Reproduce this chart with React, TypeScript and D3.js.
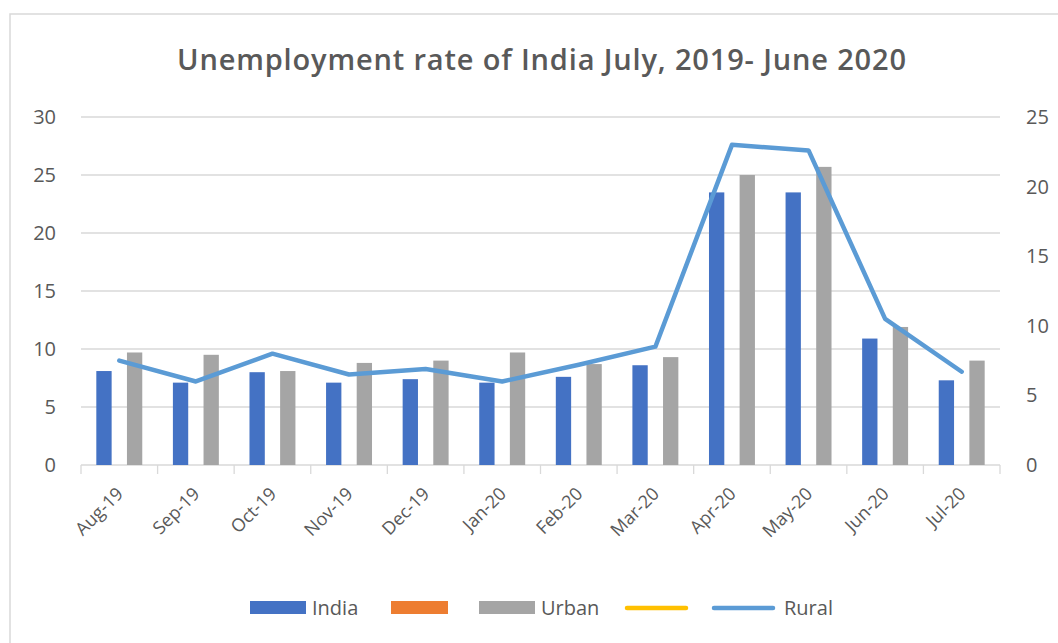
import React from 'react';
import * as d3 from 'd3';

const months = ['Aug-19', 'Sep-19', 'Oct-19', 'Nov-19', 'Dec-19', 'Jan-20', 'Feb-20', 'Mar-20', 'Apr-20', 'May-20', 'Jun-20', 'Jul-20'];
const india = [8.1, 7.1, 8.0, 7.1, 7.4, 7.1, 7.6, 8.6, 23.5, 23.5, 10.9, 7.3];
const urban = [9.7, 9.5, 8.1, 8.8, 9.0, 9.7, 8.7, 9.3, 25.0, 25.7, 11.9, 9.0];
const rural = [7.5, 6.0, 8.0, 6.5, 6.9, 6.0, 7.2, 8.5, 23.0, 22.6, 10.5, 6.7];
const leftTicks = [0, 5, 10, 15, 20, 25, 30];
const rightTicks = [0, 5, 10, 15, 20, 25];
const barKeys = ['India', 'Series2', 'Urban'];

const W = 1058;
const H = 643;
const font = "'Open Sans', sans-serif";
const textColor = '#595959';

export default function App() {
  const margin = { top: 117, bottom: 178, left: 81, right: 58 };

  const x = d3.scaleBand<string>().domain(months).range([margin.left, W - margin.right]).padding(0);
  const xInner = d3.scaleBand<string>().domain(barKeys).range([0, x.bandwidth()]).paddingInner(0).paddingOuter(1);
  const yLeft = d3.scaleLinear().domain([0, 30]).range([H - margin.bottom, margin.top]);
  const yRight = d3.scaleLinear().domain([0, 25]).range([H - margin.bottom, margin.top]);

  const cx = (m: string) => (x(m) as number) + x.bandwidth() / 2;
  const ruralLine = d3
    .line<number>()
    .x((_, i) => cx(months[i]))
    .y((d) => yRight(d))(rural) as string;

  const y0 = yLeft(0);

  return (
    <svg width={W} height={H} style={{ position: 'absolute', left: 0, top: 0, background: '#fff' }}>
      <rect x={10} y={14} width={W + 20} height={H + 20} fill="#fff" stroke="#d9d9d9" strokeWidth={1.5} />
      <text x={177} y={70} textLength={729} fontFamily={font} fontWeight={600} fontSize={29} fill={textColor}>
        Unemployment rate of India July, 2019- June 2020
      </text>

      {leftTicks.map((t) => (
        <g key={'gl' + t}>
          <line x1={margin.left} x2={W - margin.right} y1={yLeft(t)} y2={yLeft(t)} stroke="#d9d9d9" strokeWidth={1.3} />
          <text x={56} y={yLeft(t) + 7} textAnchor="end" fontFamily={font} fontSize={20} fill={textColor}>
            {t}
          </text>
        </g>
      ))}
      {rightTicks.map((t) => (
        <text key={'r' + t} x={1026} y={yRight(t) + 7} fontFamily={font} fontSize={20} fill={textColor}>
          {t}
        </text>
      ))}

      {/* category ticks */}
      {[...months.map((m) => x(m) as number), W - margin.right].map((v, i) => (
        <line key={'t' + i} x1={v} x2={v} y1={y0} y2={y0 + 9} stroke="#d9d9d9" strokeWidth={1.3} />
      ))}

      {months.map((m, i) => (
        <g key={m}>
          <rect
            x={(x(m) as number) + (xInner('India') as number)}
            y={yLeft(india[i])}
            width={xInner.bandwidth()}
            height={y0 - yLeft(india[i])}
            fill="#4472c4"
          />
          <rect
            x={(x(m) as number) + (xInner('Urban') as number)}
            y={yLeft(urban[i])}
            width={xInner.bandwidth()}
            height={y0 - yLeft(urban[i])}
            fill="#a5a5a5"
          />
          <text
            transform={`translate(${cx(m) + 5},${y0 + 30}) rotate(-45)`}
            textAnchor="end"
            fontFamily={font}
            fontSize={18}
            fill={textColor}
          >
            {m}
          </text>
        </g>
      ))}

      <path d={ruralLine} fill="none" stroke="#5b9bd5" strokeWidth={4.5} strokeLinejoin="round" strokeLinecap="round" />

      {/* legend */}
      <g fontFamily={font} fontSize={20} fill={textColor}>
        <rect x={250} y={601} width={56} height={13} fill="#4472c4" />
        <text x={312} y={615}>India</text>
        <rect x={391} y={601} width={57} height={13} fill="#ed7d31" />
        <rect x={479} y={601} width={56} height={13} fill="#a5a5a5" />
        <text x={541} y={615}>Urban</text>
        <line x1={627} x2={686} y1={608} y2={608} stroke="#ffc000" strokeWidth={4.5} strokeLinecap="round" />
        <line x1={714} x2={773} y1={608} y2={608} stroke="#5b9bd5" strokeWidth={4.5} strokeLinecap="round" />
        <text x={784} y={615}>Rural</text>
      </g>
    </svg>
  );
}
